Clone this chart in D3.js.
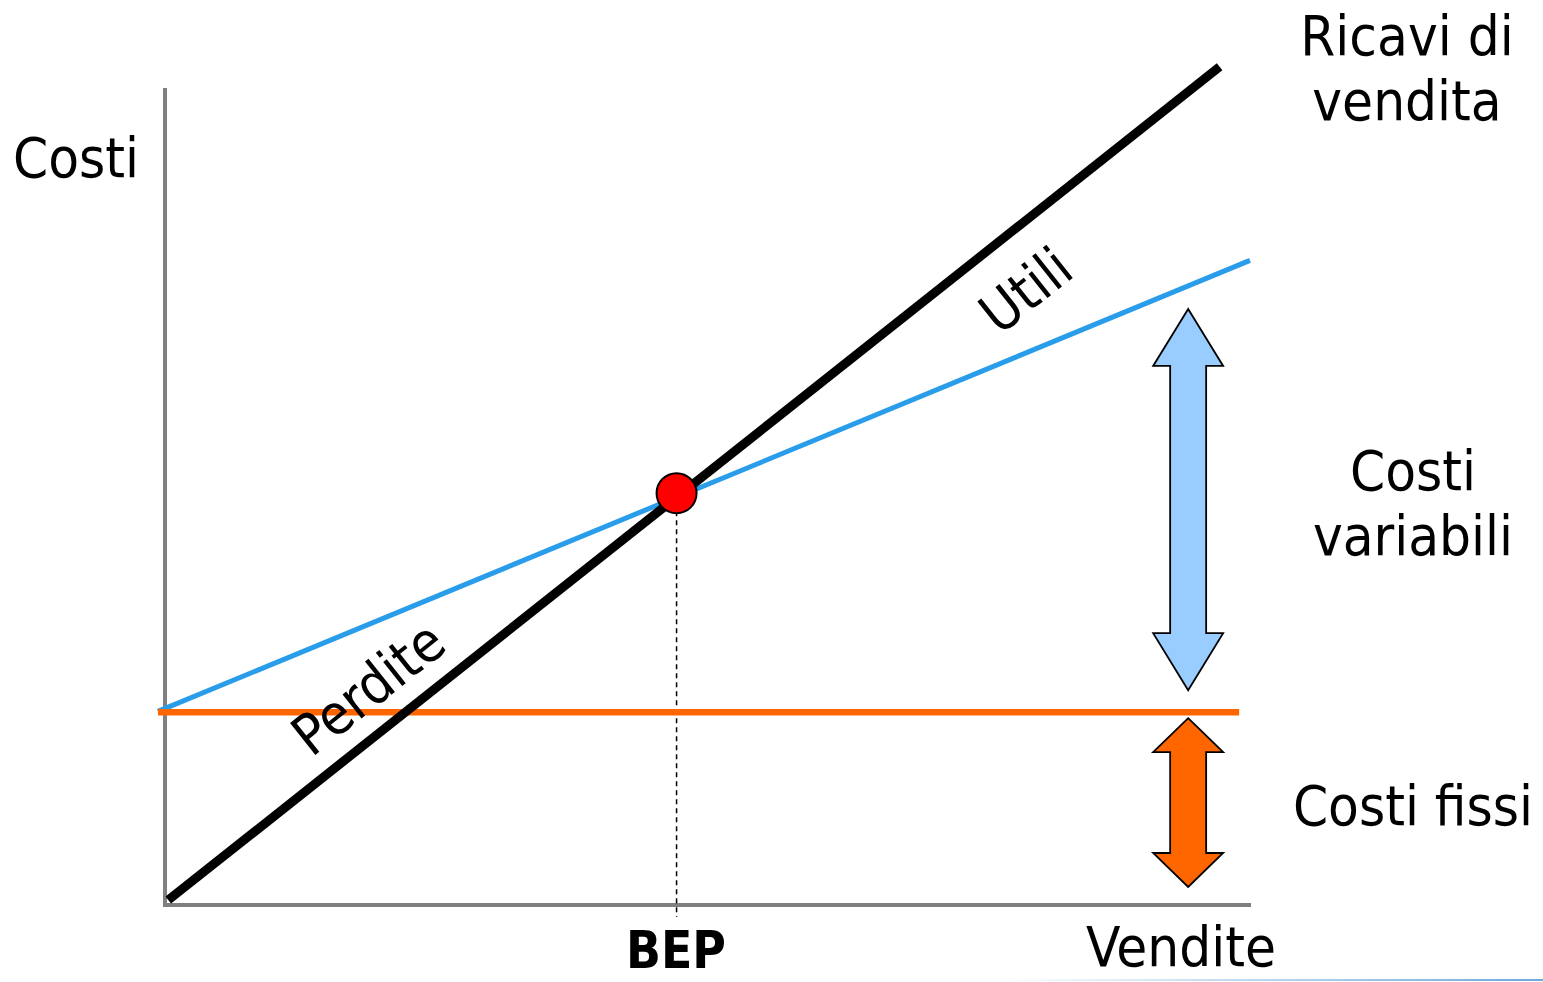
<!DOCTYPE html>
<html>
<head>
<meta charset="utf-8">
<script src="https://cdn.jsdelivr.net/npm/d3@7/dist/d3.min.js"></script>
<style>
  html, body { margin: 0; padding: 0; background: #ffffff; }
  svg { display: block; }
  text { font-family: "DejaVu Sans Condensed", "DejaVu Sans", sans-serif; font-stretch: semi-condensed; fill: #000; }
</style>
</head>
<body>
<svg id="chart" width="1543" height="982"></svg>
<script>
// Break-even chart: sales volume (x) against costs / revenue (y)
const salesDomain = [0, 100];
const costDomain = [0, 100];

// Line series as [sales, amount] pairs
const revenueLine = [[0.3, 0.6], [97.2, 102.6]];
const totalCostLine = [[-0.65, 23.7], [100, 78.9]];
const fixedCosts = 23.6;
const fixedCostLine = [[-0.65, fixedCosts], [99, fixedCosts]];

// Sales level where the cost-composition arrows stand
const arrowSales = 94.3;

const axisLabels = { y: "Costi", x: "Vendite", bep: "BEP" };
const lineLabels = { profit: "Utili", loss: "Perdite" };
const sideLabels = [
  ["Ricavi di", "vendita"],
  ["Costi", "variabili"],
  ["Costi fissi"]
];

const svg = d3.select("#chart");

const x = d3.scaleLinear().domain(salesDomain).range([165, 1250]);
const y = d3.scaleLinear().domain(costDomain).range([905, 88]);

// Axes without ticks
svg.append("g")
  .attr("transform", `translate(0,${y(0)})`)
  .call(d3.axisBottom(x).tickValues([]).tickSizeOuter(0))
  .call(g => g.select(".domain").attr("stroke", "#808080").attr("stroke-width", 4)
    .attr("d", `M${x(0) - 2},0H${x(salesDomain[1]) + 1}`));
svg.append("g")
  .attr("transform", `translate(${x(0)},0)`)
  .call(d3.axisLeft(y).tickValues([]).tickSizeOuter(0))
  .call(g => g.select(".domain").attr("stroke", "#808080").attr("stroke-width", 4)
    .attr("d", `M0,${y(costDomain[1])}V${y(0) + 2}`));

const line = d3.line().x(d => x(d[0])).y(d => y(d[1]));

// Intersection of revenue and total cost lines (break-even point)
function lineAt(pts, q) {
  const [[q0, v0], [q1, v1]] = pts;
  return v0 + (v1 - v0) * (q - q0) / (q1 - q0);
}
function intersect(a, b) {
  const sa = (a[1][1] - a[0][1]) / (a[1][0] - a[0][0]);
  const sb = (b[1][1] - b[0][1]) / (b[1][0] - b[0][0]);
  const ia = a[0][1] - sa * a[0][0];
  const ib = b[0][1] - sb * b[0][0];
  const q = (ib - ia) / (sa - sb);
  return [q, ia + sa * q];
}
const bep = intersect(revenueLine, totalCostLine);

// BEP dashed drop line
svg.append("line")
  .attr("x1", x(bep[0])).attr("x2", x(bep[0]))
  .attr("y1", y(bep[1]) + 14).attr("y2", y(0) + 12)
  .attr("stroke", "#000").attr("stroke-width", 1.5)
  .attr("stroke-dasharray", "5,4");

svg.append("path").datum(totalCostLine).attr("d", line)
  .attr("fill", "none").attr("stroke", "#2A9DEA").attr("stroke-width", 5);

svg.append("path").datum(fixedCostLine).attr("d", line)
  .attr("fill", "none").attr("stroke", "#FF6600").attr("stroke-width", 6.5);

svg.append("path").datum(revenueLine).attr("d", line)
  .attr("fill", "none").attr("stroke", "#000").attr("stroke-width", 9);

svg.append("circle")
  .attr("cx", x(bep[0])).attr("cy", y(bep[1]) - 4).attr("r", 20)
  .attr("fill", "#FF0000").attr("stroke", "#000").attr("stroke-width", 2);

// Double-headed arrows showing cost composition
function doubleArrow(cx, yTop, yBot, headW, shaftW, headL) {
  const hw = headW / 2, sw = shaftW / 2;
  return [
    [cx, yTop], [cx + hw, yTop + headL], [cx + sw, yTop + headL],
    [cx + sw, yBot - headL], [cx + hw, yBot - headL], [cx, yBot],
    [cx - hw, yBot - headL], [cx - sw, yBot - headL], [cx - sw, yTop + headL],
    [cx - hw, yTop + headL]
  ];
}
const arrowLine = d3.line().curve(d3.curveLinearClosed);
const ax = x(arrowSales);

svg.append("path")
  .attr("d", arrowLine(doubleArrow(ax, y(lineAt(totalCostLine, arrowSales)) + 23, y(fixedCosts) - 22, 70, 36, 57)))
  .attr("fill", "#99CCFF").attr("stroke", "#000").attr("stroke-width", 1.8).attr("stroke-linejoin", "miter");

svg.append("path")
  .attr("d", arrowLine(doubleArrow(ax, y(fixedCosts) + 6, y(0) - 18, 70, 36, 34)))
  .attr("fill", "#FF6600").attr("stroke", "#000").attr("stroke-width", 1.8).attr("stroke-linejoin", "miter");

// Labels along the revenue line
const angle = Math.atan2(y(revenueLine[1][1]) - y(revenueLine[0][1]), x(revenueLine[1][0]) - x(revenueLine[0][0])) * 180 / Math.PI;
[[lineLabels.profit, 79.3, 75.3], [lineLabels.loss, 18.7, 26.6]].forEach(([t, q, v]) => {
  svg.append("text")
    .attr("transform", `translate(${x(q)},${y(v)}) rotate(${angle})`)
    .attr("text-anchor", "middle").attr("dy", "0.36em")
    .attr("font-size", 56).text(t);
});

// Axis titles
svg.append("text").attr("x", 13).attr("y", 177).attr("font-size", 56).text(axisLabels.y);
svg.append("text").attr("x", 1181).attr("y", 966).attr("text-anchor", "middle").attr("font-size", 56).text(axisLabels.x);
svg.append("text").attr("x", 676).attr("y", 968).attr("text-anchor", "middle")
  .attr("font-size", 51).attr("font-weight", "bold").text(axisLabels.bep);

// Right-hand annotations
const sidePos = [[1407, 55], [1413, 490], [1413, 825]];
sideLabels.forEach((lines, i) => {
  const t = svg.append("text").attr("text-anchor", "middle").attr("font-size", 56);
  lines.forEach((s, j) => t.append("tspan").attr("x", sidePos[i][0]).attr("y", sidePos[i][1] + j * 65).text(s));
});

// Thin fading rule along the bottom edge
const defs = svg.append("defs");
const grad = defs.append("linearGradient").attr("id", "rule").attr("x1", "0").attr("x2", "1");
grad.append("stop").attr("offset", "0").attr("stop-color", "#6FA8DC").attr("stop-opacity", 0);
grad.append("stop").attr("offset", "1").attr("stop-color", "#6FA8DC").attr("stop-opacity", 1);
svg.append("rect").attr("x", 1000).attr("y", 979).attr("width", 543).attr("height", 2).attr("fill", "url(#rule)");
</script>
</body>
</html>
